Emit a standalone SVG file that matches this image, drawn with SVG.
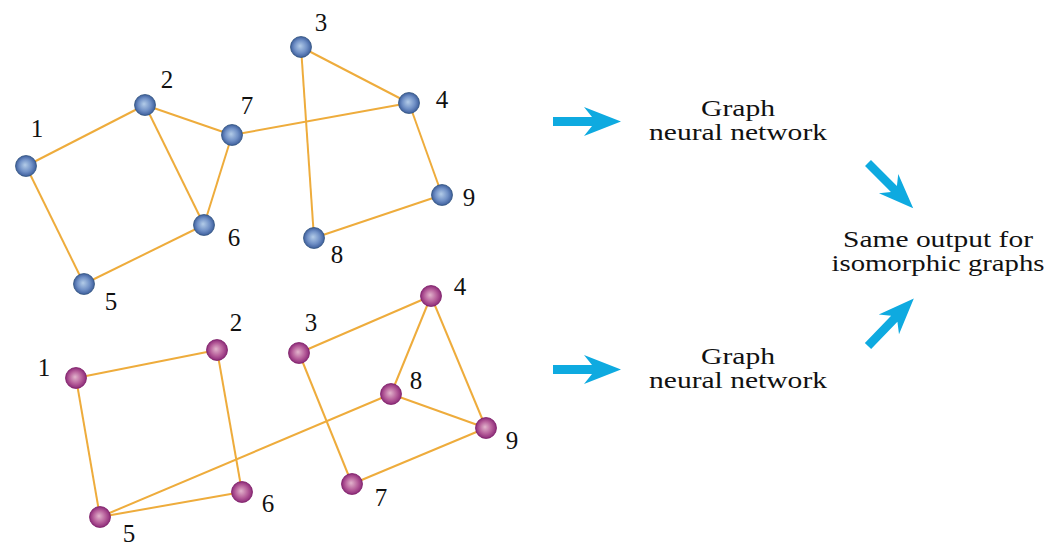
<svg xmlns="http://www.w3.org/2000/svg" width="1061" height="543" viewBox="0 0 1061 543">
<defs>
<radialGradient id="gb" cx="0.5" cy="0.5" r="0.5" fx="0.45" fy="0.45">
<stop offset="0" stop-color="#b3cce8"/>
<stop offset="0.6" stop-color="#7090c6"/>
<stop offset="1" stop-color="#3d5e9c"/>
</radialGradient>
<radialGradient id="gp" cx="0.5" cy="0.5" r="0.5" fx="0.45" fy="0.45">
<stop offset="0" stop-color="#e2b4cc"/>
<stop offset="0.6" stop-color="#b65e9a"/>
<stop offset="1" stop-color="#8c2a78"/>
</radialGradient>
<path id="arr" d="M0,-4.5 L39,-4.5 L31,-14.5 L68,0 L31,14.5 L39,4.5 L0,4.5 Z"/>
</defs>
<style>
.e{stroke:#eeac3c;stroke-width:2;fill:none}
.nb{fill:url(#gb);stroke:#34557f;stroke-width:0.8}
.np{fill:url(#gp);stroke:#7d1f68;stroke-width:0.8}
.lb{font-family:"Liberation Serif","DejaVu Serif",serif;font-size:25px;fill:#111;text-anchor:middle}
.t{font-family:"Liberation Serif","DejaVu Serif",serif;font-size:23px;fill:#111;text-anchor:middle}
.a{fill:#0eaae0}
</style>
<rect width="1061" height="543" fill="#fff"/>
<g id="connectors">
<line class="e" x1="26" y1="166" x2="145" y2="105"/>
<line class="e" x1="145" y1="105" x2="232" y2="135"/>
<line class="e" x1="145" y1="105" x2="204" y2="225"/>
<line class="e" x1="232" y1="135" x2="204" y2="225"/>
<line class="e" x1="204" y1="225" x2="84" y2="284"/>
<line class="e" x1="26" y1="166" x2="84" y2="284"/>
<line class="e" x1="232" y1="135" x2="409" y2="103"/>
<line class="e" x1="301" y1="47" x2="409" y2="103"/>
<line class="e" x1="301" y1="47" x2="314" y2="238"/>
<line class="e" x1="409" y1="103" x2="442" y2="195"/>
<line class="e" x1="442" y1="195" x2="314" y2="238"/>
<line class="e" x1="76" y1="378" x2="217" y2="350"/>
<line class="e" x1="76" y1="378" x2="100" y2="517"/>
<line class="e" x1="217" y1="350" x2="242" y2="492"/>
<line class="e" x1="100" y1="517" x2="242" y2="492"/>
<line class="e" x1="100" y1="517" x2="391" y2="394"/>
<line class="e" x1="299" y1="353" x2="431" y2="296"/>
<line class="e" x1="431" y1="296" x2="391" y2="394"/>
<line class="e" x1="431" y1="296" x2="486" y2="428"/>
<line class="e" x1="391" y1="394" x2="486" y2="428"/>
<line class="e" x1="299" y1="353" x2="352" y2="484"/>
<line class="e" x1="352" y1="484" x2="486" y2="428"/>
<use class="a" href="#arr" transform="translate(553,121.5)"/>
<use class="a" href="#arr" transform="translate(553,369.5)"/>
<use class="a" href="#arr" transform="translate(868,163) rotate(45) scale(0.94)"/>
<use class="a" href="#arr" transform="translate(868,346) rotate(-46) scale(0.97)"/>
</g>
<g id="a1"><circle class="nb" cx="26" cy="166" r="10.5"/><text class="lb" x="37" y="137">1</text></g>
<g id="a2"><circle class="nb" cx="145" cy="105" r="10.5"/><text class="lb" x="167" y="88">2</text></g>
<g id="a3"><circle class="nb" cx="301" cy="47" r="10.5"/><text class="lb" x="321" y="31">3</text></g>
<g id="a4"><circle class="nb" cx="409" cy="103" r="10.5"/><text class="lb" x="442" y="108">4</text></g>
<g id="a5"><circle class="nb" cx="84" cy="284" r="10.5"/><text class="lb" x="111" y="310">5</text></g>
<g id="a6"><circle class="nb" cx="204" cy="225" r="10.5"/><text class="lb" x="234" y="246">6</text></g>
<g id="a7"><circle class="nb" cx="232" cy="135" r="10.5"/><text class="lb" x="247" y="114">7</text></g>
<g id="a8"><circle class="nb" cx="314" cy="238" r="10.5"/><text class="lb" x="337" y="263">8</text></g>
<g id="a9"><circle class="nb" cx="442" cy="195" r="10.5"/><text class="lb" x="469" y="206">9</text></g>
<g id="b1"><circle class="np" cx="76" cy="378" r="10.5"/><text class="lb" x="44" y="376">1</text></g>
<g id="b2"><circle class="np" cx="217" cy="350" r="10.5"/><text class="lb" x="236" y="331">2</text></g>
<g id="b3"><circle class="np" cx="299" cy="353" r="10.5"/><text class="lb" x="311" y="331">3</text></g>
<g id="b4"><circle class="np" cx="431" cy="296" r="10.5"/><text class="lb" x="460" y="295">4</text></g>
<g id="b5"><circle class="np" cx="100" cy="517" r="10.5"/><text class="lb" x="129" y="542">5</text></g>
<g id="b6"><circle class="np" cx="242" cy="492" r="10.5"/><text class="lb" x="268" y="512">6</text></g>
<g id="b7"><circle class="np" cx="352" cy="484" r="10.5"/><text class="lb" x="381" y="506">7</text></g>
<g id="b8"><circle class="np" cx="391" cy="394" r="10.5"/><text class="lb" x="416" y="389">8</text></g>
<g id="b9"><circle class="np" cx="486" cy="428" r="10.5"/><text class="lb" x="512" y="449">9</text></g>
<g id="gnn1"><text class="t" x="738" y="116" textLength="74" lengthAdjust="spacingAndGlyphs">Graph</text><text class="t" x="738" y="140" textLength="178" lengthAdjust="spacingAndGlyphs">neural network</text></g>
<g id="gnn2"><text class="t" x="738" y="364" textLength="74" lengthAdjust="spacingAndGlyphs">Graph</text><text class="t" x="738" y="388" textLength="178" lengthAdjust="spacingAndGlyphs">neural network</text></g>
<g id="out"><text class="t" x="938" y="247" textLength="190" lengthAdjust="spacingAndGlyphs">Same output for</text><text class="t" x="938" y="271" textLength="213" lengthAdjust="spacingAndGlyphs">isomorphic graphs</text></g>
</svg>
